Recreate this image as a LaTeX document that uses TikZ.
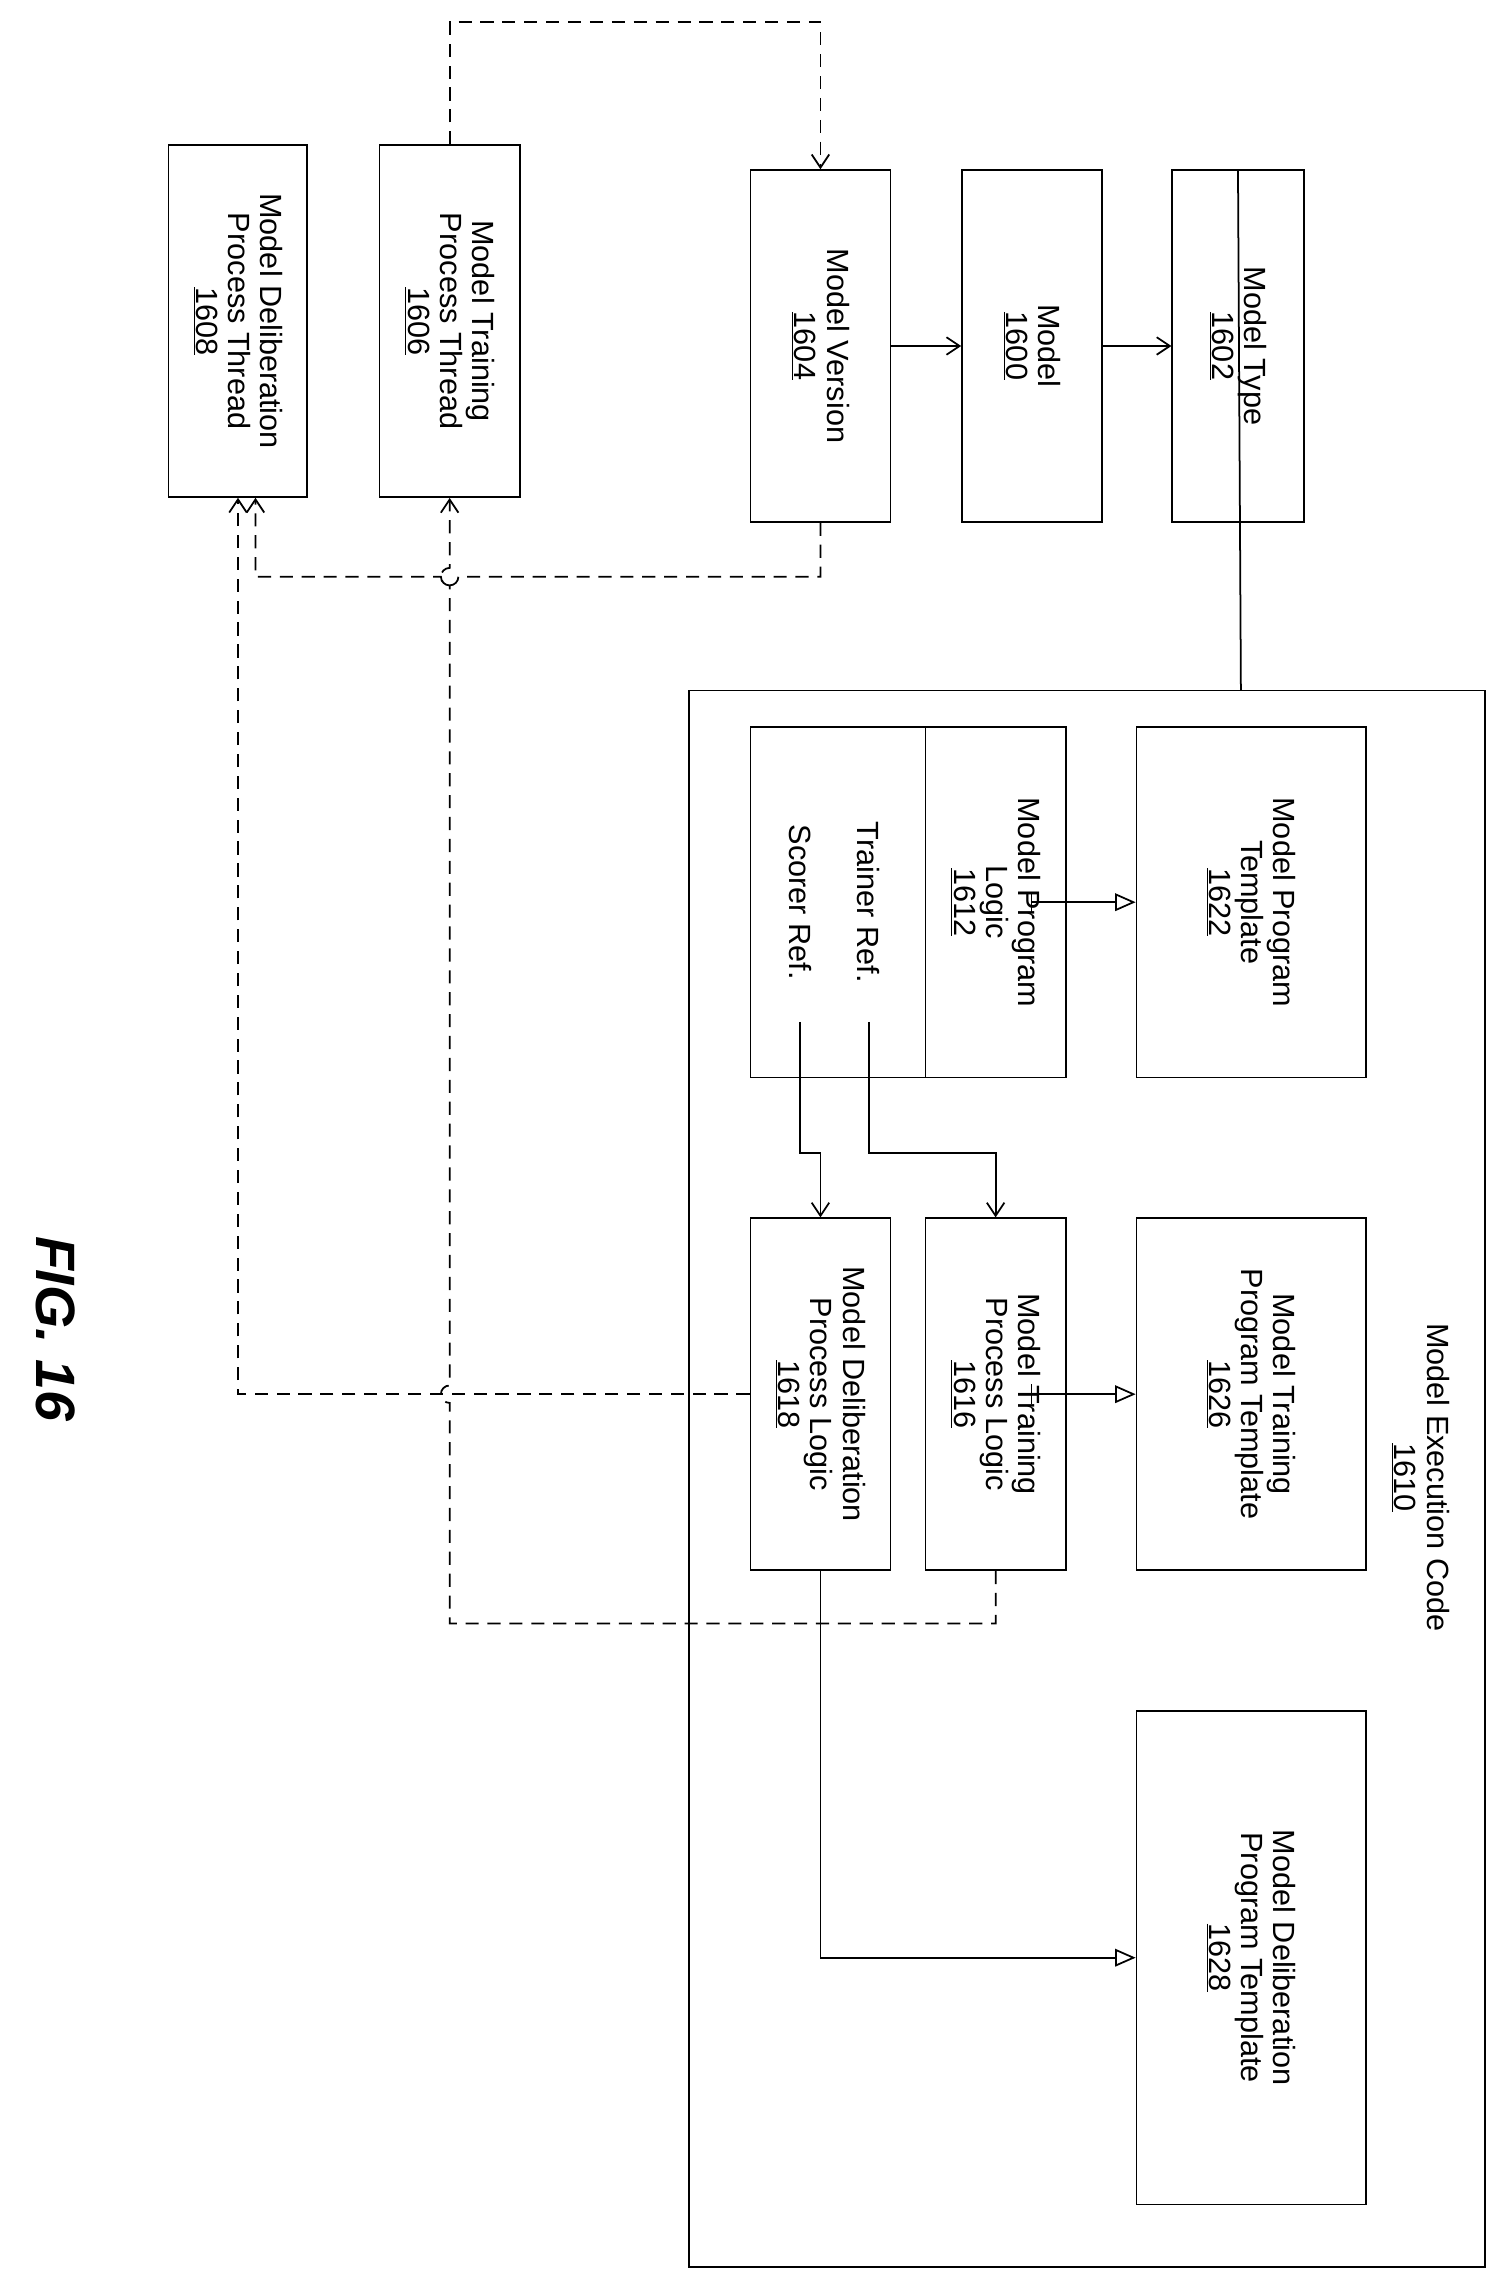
\documentclass[tikz,border=0pt]{standalone}
\usepackage{fontspec}
\setmainfont{Liberation Sans}
\usetikzlibrary{arrows.meta}
\tikzset{every picture/.style={line width=1.2pt}}
\tikzset{
  blk/.style={draw, rotate=-90, align=center, inner sep=0pt,
    font=\fontsize{21}{22}\selectfont},
  dsh/.style={dashed, dash pattern=on 9pt off 6pt},
  arr/.style={-{Straight Barb[length=9pt,width=12pt]}},
  tri/.style={-{Triangle[open,length=14pt,width=12pt]}},
}
\begin{document}
\begin{tikzpicture}[x=1pt,y=1pt,yscale=-1]
\useasboundingbox (0,0) rectangle (1024,1570);

% upper row
\node (type) [blk, minimum width=241pt, minimum height=90pt] at (848,237) {Model Type\\\underline{1602}};
\node (model) [blk, minimum width=241pt, minimum height=96pt] at (707,237) {Model\\\underline{1600}};
\node (version) [blk, minimum width=241pt, minimum height=96pt] at (562,237) {Model Version\\\underline{1604}};
\node (trainthr) [blk, minimum width=241pt, minimum height=96pt] at (308,220) {Model Training\\Process Thread\\\underline{1606}};
\node (delibthr) [blk, minimum width=241pt, minimum height=95pt] at (163,220) {Model Deliberation\\Process Thread\\\underline{1608}};

% execution code
\draw (472,473) rectangle (1017,1553);
\node (exec) [rotate=-90, align=center, font=\fontsize{21}{22}\selectfont] at (973,1012) {Model Execution Code\\\underline{1610}};
\coordinate (execTop) at (850,473);
\node (progtpl) [blk, minimum width=240pt, minimum height=157pt] at (857,618) {Model Program\\Template\\\underline{1622}};
\node (traintpl) [blk, minimum width=241pt, minimum height=157pt] at (857,955) {Model Training\\Program Template\\\underline{1626}};
\node (delibtpl) [blk, minimum width=338pt, minimum height=157pt] at (857,1341) {Model Deliberation\\Program Template\\\underline{1628}};
\node (proglogic) [blk, minimum width=240pt, minimum height=96pt] at (682,618) {Model Program\\Logic\\\underline{1612}};
\node (refs) [draw, minimum width=120pt, minimum height=240pt, inner sep=0pt] at (574,618) {};
\node (trainref) [rotate=-90, font=\fontsize{21}{22}\selectfont] at (595,618) {Trainer Ref.};
\node (scoreref) [rotate=-90, font=\fontsize{21}{22}\selectfont] at (548,618) {Scorer Ref.};
\node (trainlogic) [blk, minimum width=241pt, minimum height=96pt] at (682,955) {Model Training\\Process Logic\\\underline{1616}};
\node (delibogic) [blk, minimum width=241pt, minimum height=96pt] at (562,955) {Model Deliberation\\Process Logic\\\underline{1618}};

\node (fig) [rotate=-90, font=\fontsize{38}{40}\selectfont\bfseries\itshape] at (38,910) {FIG. 16};

% connectors
\draw [arr] (version.north) -- (model.south);
\draw [arr] (model.north) -- (type.south);
\draw (type.west) -- (execTop);
\draw [tri, {Bar[width=14pt]}-{Triangle[open,length=14pt,width=12pt]}] (706,618) -- (progtpl.south);
\draw [{Bar[width=14pt]}-{Triangle[open,length=14pt,width=12pt]}] (706,955) -- (traintpl.south);
\draw [tri] (delibogic.east) |- (delibtpl.south);
\draw [arr] (595,700) |- (682,790) -- (trainlogic.west);
\draw [arr] (548,700) |- (562,790) -- (delibogic.west);

% dashed threads
\draw [dsh, arr] (trainthr.west) -- (308,15) -| (version.west);
\draw [dsh, arr] (version.east) -- (562,395) -- (314,395) arc (0:180:6pt) -- (175,395) -- (175,341);
\draw [dsh, arr] (trainlogic.east) -- (682,1112) -- (308,1112) -- (308,961) arc (90:270:6pt) -- (308,401) arc (90:270:6pt) -- (trainthr.east);
\draw [dsh, arr] (delibogic.south) -- (163,955) -- (163,341);
\end{tikzpicture}
\end{document}
